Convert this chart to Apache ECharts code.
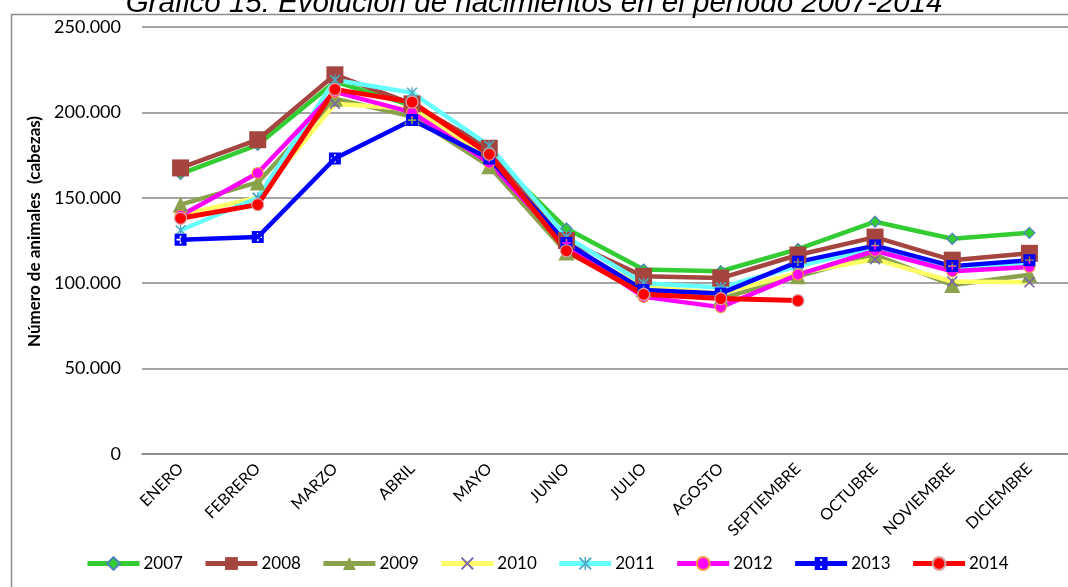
<!DOCTYPE html>
<html>
<head>
<meta charset="utf-8">
<script src="https://cdn.jsdelivr.net/npm/echarts@6/dist/echarts.min.js"></script>
<style>html,body{margin:0;padding:0;background:#fff}#c{width:1068px;height:587px}</style>
</head>
<body>
<div id="c"></div>
<script>
const categories = ['ENERO','FEBRERO','MARZO','ABRIL','MAYO','JUNIO','JULIO','AGOSTO','SEPTIEMBRE','OCTUBRE','NOVIEMBRE','DICIEMBRE'];
const y2007 = [164000,181000,218000,204000,176000,132000,108000,107000,120000,136000,126000,129500];
const y2008 = [167500,184000,222000,205000,179000,125000,104000,103000,116500,127000,113500,117500];
const y2009 = [146000,159000,208000,197500,168500,118000,96500,91000,104000,116500,99000,105000];
const y2010 = [140000,150000,205000,202000,174000,121000,98000,94000,106000,114000,101000,100500];
const y2011 = [131000,150000,219000,211500,180500,127000,100000,97500,110000,120500,108000,111000];
const y2012 = [139500,164500,212000,200000,170500,122000,92000,86000,105000,119000,107000,109500];
const y2013 = [125500,127000,173000,195500,173000,123500,96000,94000,112500,122000,110000,113500];
const y2014 = [138000,146000,213500,206000,175500,119000,93500,91000,89800,null,null,null];
const seriesNames = ['2007','2008','2009','2010','2011','2012','2013','2014'];
const titleText = 'Gráfico 15: Evolución de nacimientos en el período 2007-2014';
const yAxisName = 'Número de animales  (cabezas)';

const X_PATH = 'path://M0,1 L1,0 L5,4 L9,0 L10,1 L6,5 L10,9 L9,10 L5,6 L1,10 L0,9 L4,5 Z';
const STAR_PATH = 'path://M0,1 L1,0 L5,4 L9,0 L10,1 L6,5 L10,9 L9,10 L5,6 L1,10 L0,9 L4,5 Z M4.4,0 L5.6,0 L5.6,10 L4.4,10 Z';
const PLUS_SQ = 'path://M0,0 L10,0 L10,10 L0,10 Z M4.3,1.5 L4.3,4.3 L1.5,4.3 L1.5,5.7 L4.3,5.7 L4.3,8.5 L5.7,8.5 L5.7,5.7 L8.5,5.7 L8.5,4.3 L5.7,4.3 L5.7,1.5 Z';

function mk(name, data, color, symbol, size, fill, border, bw, lw) {
  return {
    name: name, type: 'line', data: data,
    symbol: symbol, symbolSize: size,
    showAllSymbol: true,
    lineStyle: { color: color, width: lw || 4.5 },
    itemStyle: { color: fill, borderColor: border, borderWidth: bw },
    emphasis: { disabled: true },
    animation: false
  };
}

const series = [
  mk(seriesNames[0], y2007, '#33CC33', 'diamond', 11, '#33CC33', '#4F81BD', 1.2),
  mk(seriesNames[1], y2008, '#A5453F', 'rect', 17, '#A5453F', '#A5453F', 0),
  mk(seriesNames[2], y2009, '#8AA24C', 'triangle', 16, '#8AA24C', '#8AA24C', 0),
  mk(seriesNames[3], y2010, '#FFFF66', X_PATH, 11, '#7A64A6', '#7A64A6', 0),
  mk(seriesNames[4], y2011, '#66FFFF', STAR_PATH, 11, '#4BACC6', '#4BACC6', 0),
  mk(seriesNames[5], y2012, '#FF00FF', 'circle', 11, '#FF00FF', '#F79646', 1.2),
  mk(seriesNames[6], y2013, '#0000FF', PLUS_SQ, 12, '#0000FF', '#0000FF', 0),
  mk(seriesNames[7], y2014, '#FF0000', 'circle', 12, '#FF0000', '#D9A0A0', 1.2, 5)
];

const chart = echarts.init(document.getElementById('c'), null, { renderer: 'canvas' });
chart.setOption({
  animation: false,
  backgroundColor: '#fff',
  title: {
    text: titleText, left: 'center', top: -16,
    textStyle: { fontFamily: 'Liberation Sans', fontStyle: 'italic', fontWeight: 'normal', fontSize: 29.5, color: '#000' }
  },
  graphic: [{
    type: 'rect', left: 9, top: 12, z: -1,
    shape: { width: 1100, height: 620 },
    style: { fill: 'none', stroke: '#8C8C8C', lineWidth: 1.5 }
  }],
  grid: { left: 142, right: 0, top: 27, bottom: 133, containLabel: false },
  legend: {
    data: seriesNames, left: 85, top: 555, padding: 0,
    itemWidth: 52, itemHeight: 16, itemGap: 20,
    lineStyle: { width: 5 },
    textStyle: { fontFamily: 'Lato', fontSize: 17, color: '#000', padding: [0,0,0,-1] }
  },
  xAxis: {
    type: 'category', data: categories, boundaryGap: true,
    axisLine: { lineStyle: { color: '#868686', width: 1.5 } },
    axisTick: { show: false },
    axisLabel: { rotate: 45, interval: 0, margin: 12, fontFamily: 'Lato', fontSize: 16, color: '#000' }
  },
  yAxis: {
    type: 'value', min: 0, max: 250000, interval: 50000,
    name: yAxisName, nameLocation: 'middle', nameGap: 96, nameRotate: 90,
    nameTextStyle: { fontFamily: 'Lato', fontWeight: 'bold', fontSize: 17, color: '#000', padding: [0,0,0,18] },
    axisLine: { show: false }, axisTick: { show: false },
    splitLine: { lineStyle: { color: '#868686', width: 1.5 } },
    axisLabel: {
      margin: 21, fontFamily: 'Lato', fontSize: 18, color: '#000',
      formatter: v => v === 0 ? '0' : v.toLocaleString('de-DE')
    }
  },
  series: series
});
</script>
</body>
</html>
